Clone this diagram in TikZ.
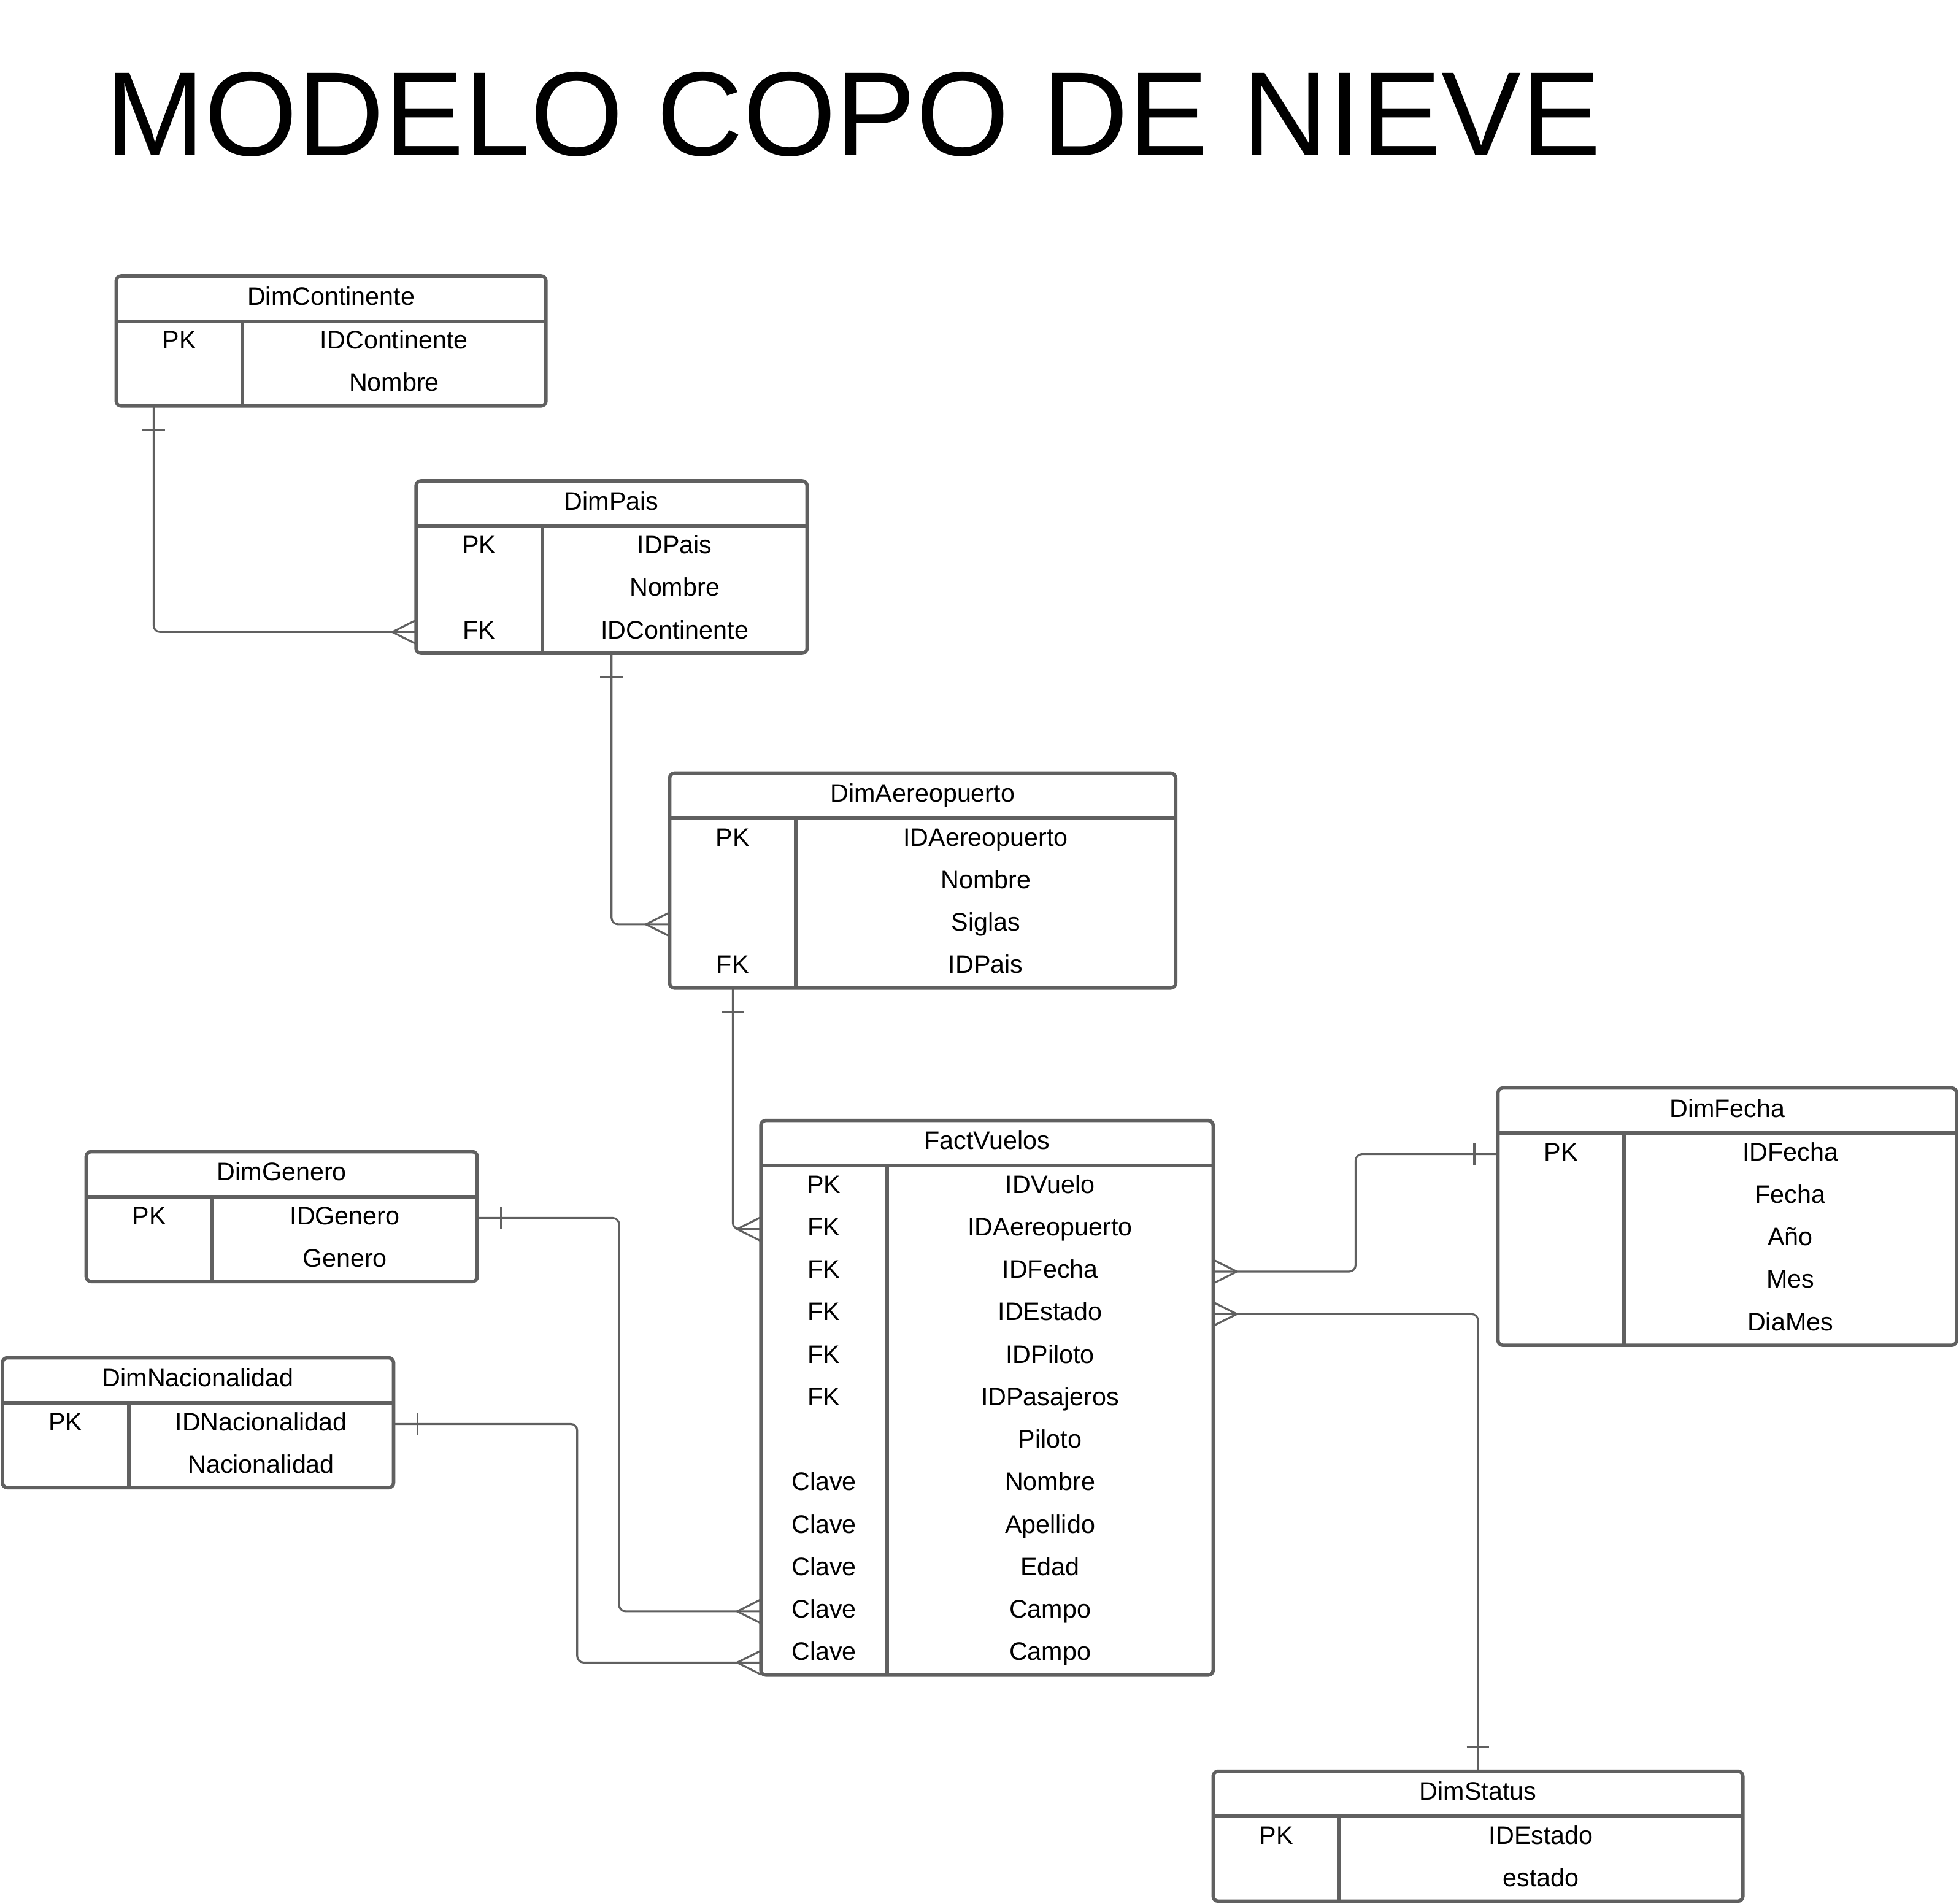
\documentclass[tikz,border=0pt]{standalone}
\usepackage{fontspec}
\setmainfont{Liberation Sans}
\usetikzlibrary{calc}

\definecolor{erline}{RGB}{96,96,96}
\def\unitpx{0.020364cm}

\tikzset{
  tablebox/.style={draw=erline, line width=1.6pt, rounded corners=2.3pt, inner sep=0pt, outer sep=0pt},
  tableline/.style={draw=erline, line width=1.6pt},
  celltext/.style={font=\fontsize{11.75}{14}\selectfont, text height=8.4pt, text depth=0pt, inner sep=0pt},
  rel/.style={draw=erline, line width=0.9pt, rounded corners=3pt},
  many/.pic={\draw[rel, rounded corners=0pt] (0,9.5) -- (-19,0) -- (0,-9.5);},
  one/.pic={\draw[rel, rounded corners=0pt] (-19,-9) -- (-19,9);}
}

% #1 name, #2 left, #3 top, #4 width, #5 rows, #6 title, #7 key/field list
\newcommand{\ertable}[7]{%
  \node[tablebox, anchor=north west, minimum width=#4*\unitpx,
        minimum height={(36+34*#5)*\unitpx}] (#1) at (#2,-#3) {};
  \draw[tableline] (#2,-#3-36) -- (#2+#4,-#3-36);
  \draw[tableline] (#2+101,-#3-36) -- (#2+101,-#3-36-34*#5);
  \node[celltext] (#1-h) at (#2+#4/2,-#3-16) {#6};
  \foreach \colkey/\colfield [count=\i] in {#7} {
    \coordinate (#1-r\i) at (#2,-#3-19-34*\i);
    \node[celltext] (#1-k\i) at (#2+50.5,-#3-17-34*\i) {\colkey};
    \node[celltext] (#1-f\i) at (#2+50.5+#4/2,-#3-17-34*\i) {\colfield};
  }%
}

\begin{document}
\begin{tikzpicture}[x=0.020364cm, y=0.020364cm]
\useasboundingbox (0,0) rectangle (1568,-1524);
\node[anchor=base west, inner sep=0pt, font=\fontsize{55.5}{60}\selectfont] (title) at (83.8,-124.3) {MODELO COPO DE NIEVE};

% tables
\ertable{cont}{93}{221}{344}{2}{DimContinente}{PK/IDContinente,/Nombre}
\ertable{pais}{333}{385}{313}{3}{DimPais}{PK/IDPais,/Nombre,FK/IDContinente}
\ertable{aero}{536}{619}{405}{4}{DimAereopuerto}{PK/IDAereopuerto,/Nombre,/Siglas,FK/IDPais}
\ertable{fact}{609}{897}{362}{12}{FactVuelos}{PK/IDVuelo,FK/IDAereopuerto,FK/IDFecha,FK/IDEstado,FK/IDPiloto,FK/IDPasajeros,/Piloto,Clave/Nombre,Clave/Apellido,Clave/Edad,Clave/Campo,Clave/Campo}
\ertable{fecha}{1199}{871}{367}{5}{DimFecha}{PK/IDFecha,/Fecha,/Año,/Mes,/DiaMes}
\ertable{genero}{69}{922}{313}{2}{DimGenero}{PK/IDGenero,/Genero}
\ertable{nac}{2}{1087}{313}{2}{DimNacionalidad}{PK/IDNacionalidad,/Nacionalidad}
\ertable{status}{971}{1418}{424}{2}{DimStatus}{PK/IDEstado,/estado}

% relations
\draw[rel] ($(cont.south west)+(30,0)$) |- (pais-r3);
\draw[rel] (pais.south) |- (aero-r3);
\draw[rel] (aero.south -| aero-k1) |- (fact-r2);
\draw[rel] (fecha-r1) -| ($(fecha-r1)!.5!(fact.east |- fact-r3)$) |- (fact.east |- fact-r3);
\draw[rel] (status.north) |- (fact.east |- fact-r4);
\draw[rel] (genero.east |- genero-r1) -| ($(genero.east |- genero-r1)!.5!(fact-r11)$) |- (fact-r11);
\draw[rel] (nac.east |- nac-r1) -| ($(nac.east |- nac-r1)!.5!(fact.south west)$) |- ($(fact.south west)+(0,10)$);

% ends
\pic[rotate=90] at ($(cont.south west)+(30,0)$) {one};
\pic at (pais-r3) {many};
\pic[rotate=90] at (pais.south) {one};
\pic at (aero-r3) {many};
\pic[rotate=90] at (aero.south -| aero-k1) {one};
\pic at (fact-r2) {many};
\pic at (fecha-r1) {one};
\pic[rotate=180] at (fact.east |- fact-r3) {many};
\pic[rotate=-90] at (status.north) {one};
\pic[rotate=180] at (fact.east |- fact-r4) {many};
\pic[rotate=180] at (genero.east |- genero-r1) {one};
\pic at (fact-r11) {many};
\pic[rotate=180] at (nac.east |- nac-r1) {one};
\pic at ($(fact.south west)+(0,10)$) {many};
\end{tikzpicture}
\end{document}
